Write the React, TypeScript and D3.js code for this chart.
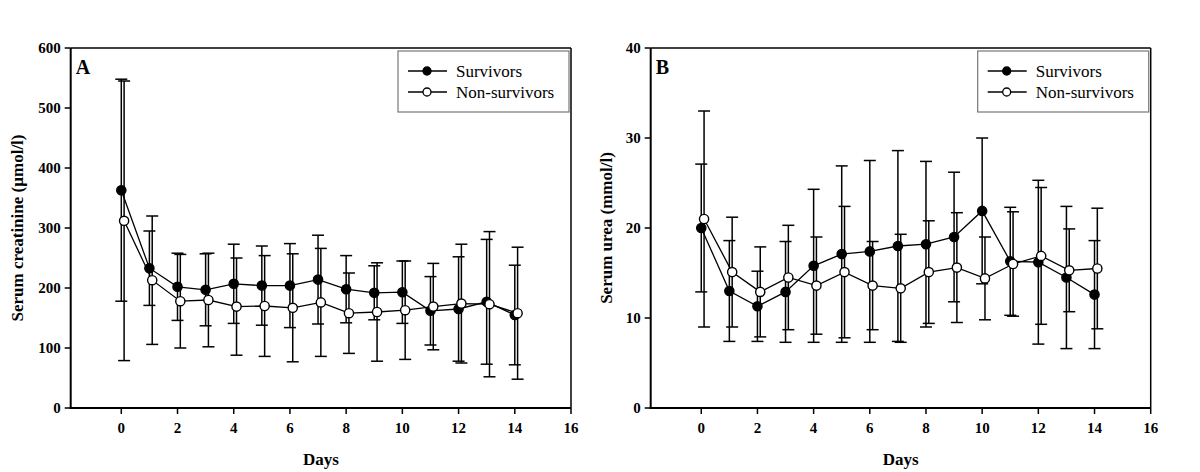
import React from "react";
import * as d3 from "d3";

const days = [0, 1, 2, 3, 4, 5, 6, 7, 8, 9, 10, 11, 12, 13, 14];
const xTicks = [0, 2, 4, 6, 8, 10, 12, 14, 16];

const creatSurvMean = [363, 233, 202, 197, 207, 204, 204, 214, 198, 192, 193, 162, 165, 177, 155];
const creatSurvSD = [185, 62, 56, 60, 66, 66, 70, 74, 56, 45, 52, 57, 87, 104, 83];
const creatNonMean = [312, 213, 178, 180, 169, 170, 167, 176, 158, 160, 163, 169, 174, 173, 158];
const creatNonSD = [233, 107, 78, 78, 81, 84, 90, 90, 67, 82, 82, 72, 99, 121, 110];
const creatTicks = [0, 100, 200, 300, 400, 500, 600];

const ureaSurvMean = [20.0, 13.0, 11.3, 12.9, 15.8, 17.1, 17.4, 18.0, 18.2, 19.0, 21.9, 16.3, 16.2, 14.5, 12.6];
const ureaSurvSD = [7.1, 5.6, 3.9, 5.6, 8.5, 9.8, 10.1, 10.6, 9.2, 7.2, 8.1, 6.0, 9.1, 7.9, 6.0];
const ureaNonMean = [21.0, 15.1, 12.9, 14.5, 13.6, 15.1, 13.6, 13.3, 15.1, 15.6, 14.4, 16.0, 16.9, 15.3, 15.5];
const ureaNonSD = [12.0, 6.1, 5.0, 5.8, 5.4, 7.3, 4.9, 6.0, 5.7, 6.1, 4.6, 5.8, 7.6, 4.6, 6.7];
const ureaTicks = [0, 10, 20, 30, 40];

const seriesNames = ["Survivors", "Non-survivors"];

const FONT = "Liberation Serif, Times New Roman, Times, serif";

type PanelProps = {
  x0: number;
  x1: number;
  yMax: number;
  yTicks: number[];
  surv: number[];
  survSD: number[];
  non: number[];
  nonSD: number[];
  letter: string;
  yTitle: string;
  titleX: number;
};

function Panel(p: PanelProps) {
  const top = 48;
  const bottom = 408;
  const x = d3.scaleLinear().domain([-1.8, 16]).range([p.x0, p.x1]);
  const y = d3.scaleLinear().domain([0, p.yMax]).range([bottom, top]);
  const line = d3
    .line<[number, number]>()
    .x((d) => x(d[0]))
    .y((d) => y(d[1]));

  const series = [
    { mean: p.surv, sd: p.survSD, off: 0, fill: "#000" },
    { mean: p.non, sd: p.nonSD, off: 0.1, fill: "#fff" },
  ];
  const cap = 6;
  const lx = p.x1 - 173;
  const bold = { fontFamily: FONT, fontWeight: 700 as const };

  return (
    <g>
      {/* frame */}
      <line x1={p.x0} x2={p.x1} y1={top} y2={top} stroke="#000" strokeWidth={1.5} />
      <line x1={p.x1} x2={p.x1} y1={top} y2={bottom} stroke="#000" strokeWidth={1.5} />
      <line x1={p.x0} x2={p.x0} y1={top} y2={bottom + 1} stroke="#000" strokeWidth={2} />
      <line x1={p.x0 - 1} x2={p.x1} y1={bottom} y2={bottom} stroke="#000" strokeWidth={2} />

      {/* y ticks */}
      {p.yTicks.map((t) => (
        <g key={"y" + t}>
          <line x1={p.x0 - 6} x2={p.x0} y1={y(t)} y2={y(t)} stroke="#000" strokeWidth={1.5} />
          <text
            x={p.x0 - 10}
            y={y(t)}
            dy="0.35em"
            textAnchor="end"
            style={{ ...bold, fontSize: 15 }}
          >
            {t}
          </text>
        </g>
      ))}
      {/* x ticks */}
      {xTicks.map((t) => (
        <g key={"x" + t}>
          <line x1={x(t)} x2={x(t)} y1={bottom} y2={bottom + 6} stroke="#000" strokeWidth={1.5} />
          <text x={x(t)} y={433} textAnchor="middle" style={{ ...bold, fontSize: 15 }}>
            {t}
          </text>
        </g>
      ))}

      {/* axis titles */}
      <text
        x={(p.x0 + p.x1) / 2}
        y={465}
        textAnchor="middle"
        style={{ ...bold, fontSize: 17 }}
      >
        Days
      </text>
      <text
        transform={`translate(${p.titleX},${(top + bottom) / 2}) rotate(-90)`}
        textAnchor="middle"
        dy="0.35em"
        style={{ ...bold, fontSize: 17 }}
      >
        {p.yTitle}
      </text>
      <text x={p.x0 + 5} y={74} style={{ ...bold, fontSize: 20 }}>
        {p.letter}
      </text>

      {/* error bars */}
      {series.map((s, si) =>
        days.map((d, i) => {
          const cx = x(d + s.off);
          const hi = y(s.mean[i] + s.sd[i]);
          const lo = y(s.mean[i] - s.sd[i]);
          return (
            <g key={`e${si}-${i}`} stroke="#000" strokeWidth={1.5}>
              <line x1={cx} x2={cx} y1={hi} y2={lo} />
              <line x1={cx - cap} x2={cx + cap} y1={hi} y2={hi} />
              <line x1={cx - cap} x2={cx + cap} y1={lo} y2={lo} />
            </g>
          );
        })
      )}

      {/* lines and markers */}
      {series.map((s, si) => (
        <g key={"s" + si}>
          <path
            d={line(days.map((d, i) => [d + s.off, s.mean[i]] as [number, number])) || ""}
            fill="none"
            stroke="#000"
            strokeWidth={1.3}
          />
          {days.map((d, i) => (
            <circle
              key={i}
              cx={x(d + s.off)}
              cy={y(s.mean[i])}
              r={4.6}
              fill={s.fill}
              stroke="#000"
              strokeWidth={1.4}
            />
          ))}
        </g>
      ))}

      {/* legend */}
      <rect x={lx} y={51} width={171} height={61} fill="#fff" stroke="#777" strokeWidth={1.2} />
      {seriesNames.map((name, i) => {
        const ly = 71 + i * 21;
        return (
          <g key={name}>
            <line x1={lx + 10} x2={lx + 49} y1={ly} y2={ly} stroke="#000" strokeWidth={1.3} />
            <circle
              cx={lx + 29}
              cy={ly}
              r={4}
              fill={series[i].fill}
              stroke="#000"
              strokeWidth={1.3}
            />
            <text
              x={lx + 58}
              y={ly}
              dy="0.35em"
              style={{ fontFamily: FONT, fontWeight: 400, fontSize: 17 }}
            >
              {name}
            </text>
          </g>
        );
      })}
    </g>
  );
}

export default function App() {
  return (
    <svg
      width={1200}
      height={472}
      style={{ position: "absolute", left: 0, top: 0, background: "#fff" }}
    >
      <rect width={1200} height={472} fill="#fff" />
      <Panel
        x0={70.7}
        x1={571}
        yMax={600}
        yTicks={creatTicks}
        surv={creatSurvMean}
        survSD={creatSurvSD}
        non={creatNonMean}
        nonSD={creatNonSD}
        letter="A"
        yTitle="Serum creatinine (µmol/l)"
        titleX={17}
      />
      <Panel
        x0={650.7}
        x1={1150.7}
        yMax={40}
        yTicks={ureaTicks}
        surv={ureaSurvMean}
        survSD={ureaSurvSD}
        non={ureaNonMean}
        nonSD={ureaNonSD}
        letter="B"
        yTitle="Serum urea (mmol/l)"
        titleX={606}
      />
    </svg>
  );
}
